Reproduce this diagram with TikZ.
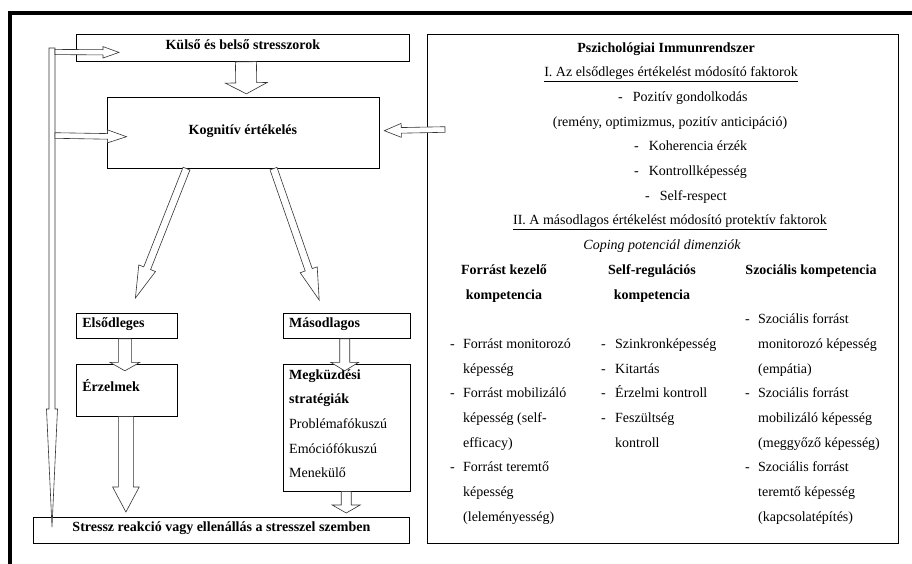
\documentclass[tikz,border=0pt]{standalone}
\usepackage{fontspec}
\setmainfont{Liberation Serif}
\usetikzlibrary{calc, positioning}

\newcommand{\diagfont}{\fontsize{14}{24.7}\selectfont}
% hollow block arrow: start, tip, shaft half width, head half width, head length
\newcommand{\hollowarrow}[5]{%
  \path (#2) coordinate (ha-tip) ($(#2)!#5!(#1)$) coordinate (ha-neck);
  \draw[harrow] ($(#1)!#3!90:(#2)$) -- ($(ha-neck)!#3!90:(ha-tip)$)
    -- ($(ha-neck)!#4!90:(ha-tip)$) -- (ha-tip)
    -- ($(ha-neck)!#4!-90:(ha-tip)$) -- ($(ha-neck)!#3!-90:(ha-tip)$)
    -- ($(#1)!#3!-90:(#2)$) -- cycle;}

\begin{document}
\begin{tikzpicture}[x=1pt, y=-1pt,
    every node/.style={font=\diagfont},
    plainbox/.style={draw, line width=.8pt, inner sep=0pt},
    box/.style={plainbox, font=\diagfont\bfseries, text height=10pt, text depth=7pt},
    lbox/.style={box, inner xsep=6pt, text width=#1, align=left},
    txt/.style={inner sep=0pt, anchor=base},
    listline/.style={inner sep=0pt, anchor=base west},
    harrow/.style={draw=black!80, line width=.6pt, fill=white, line join=miter}
  ]
    \useasboundingbox (0,0) rectangle (912,563);
    \draw[line width=4pt] (9.5,566) -- (9.5,12.5) -- (915,12.5);

    % Stress model
    \node[box, minimum width=333pt, minimum height=27pt, anchor=north west] (ext) at (76,34) {Külső és belső stresszorok};
    \node[box, minimum width=272pt, minimum height=71pt, below=35pt of ext] (kog) {Kognitív értékelés};
    \node[lbox=89pt, minimum height=25pt, anchor=north west] (els) at (76,313) {Elsődleges};
    \node[lbox=89pt, minimum height=52pt, below=25pt of els] (erz) {Érzelmek};
    \node[lbox=115pt, minimum height=25pt, right=105pt of els] (mas) {Másodlagos};
    \node[plainbox, minimum width=127pt, minimum height=127pt, text height=9pt, below=25pt of mas] (meg)
      {\begin{tabular}[t]{@{}p{115pt}@{}}\textbf{Megküzdési}\\\textbf{stratégiák}\\Problémafókuszú\\Emóciófókuszú\\Menekülő\end{tabular}};
    \node[box, minimum width=376pt, minimum height=26pt, anchor=north west] (resp) at (33,517) {Stressz reakció vagy ellenállás a stresszel szemben};

    % Psychological immune system
    \node[plainbox, minimum width=471pt, minimum height=509pt, anchor=north west] (immun) at (427,34) {};
    \node[txt, font=\diagfont\bfseries] (title) at (666,52) {Pszichológiai Immunrendszer};
    \node[txt] (prim) at (671,76.7) {\underline{I. Az elsődleges értékelést módosító faktorok}};
    \node[listline] (p1) at (618,101.4) {-\hspace{10pt}Pozitív gondolkodás};
    \node[txt] (p1b) at (670,126.1) {(remény, optimizmus, pozitív anticipáció)};
    \node[listline] (p2) at (634,150.8) {-\hspace{10pt}Koherencia érzék};
    \node[listline] (p3) at (634,175.5) {-\hspace{10pt}Kontrollképesség};
    \node[listline] (p4) at (645,200.2) {-\hspace{10pt}Self-respect};
    \node[txt] (sec) at (670,224.9) {\underline{II. A másodlagos értékelést módosító protektív faktorok}};
    \node[txt, font=\diagfont\itshape] (coping) at (662,249.6) {Coping potenciál dimenziók};

    % Coping columns
    \node[txt, font=\diagfont\bfseries] (h1) at (504,274.3) {\begin{tabular}[t]{@{}c@{}}Forrást kezelő\\kompetencia\end{tabular}};
    \node[txt, font=\diagfont\bfseries] (h2) at (652,274.3) {\begin{tabular}[t]{@{}c@{}}Self-regulációs\\kompetencia\end{tabular}};
    \node[txt, font=\diagfont\bfseries] (h3) at (811,274.3) {Szociális kompetencia};
    \node[listline] (c1) at (450,348.4) {\begin{tabular}[t]{@{}p{13pt}@{}l@{}}
      - & Forrást monitorozó\\ & képesség\\
      - & Forrást mobilizáló\\ & képesség (self-\\ & efficacy)\\
      - & Forrást teremtő\\ & képesség\\ & (leleményesség)\end{tabular}};
    \node[listline] (c2) at (601,348.4) {\begin{tabular}[t]{@{}p{14pt}@{}l@{}}
      - & Szinkronképesség\\ - & Kitartás\\ - & Érzelmi kontroll\\
      - & Feszültség\\ & kontroll\end{tabular}};
    \node[listline] (c3) at (745,323.7) {\begin{tabular}[t]{@{}p{13pt}@{}l@{}}
      - & Szociális forrást\\ & monitorozó képesség\\ & (empátia)\\
      - & Szociális forrást\\ & mobilizáló képesség\\ & (meggyőző képesség)\\
      - & Szociális forrást\\ & teremtő képesség\\ & (kapcsolatépítés)\end{tabular}};

    % Feedback bar
    \coordinate (bar-top) at (52,48);
    \coordinate (bar-end) at (52,527);
    \hollowarrow{bar-top}{bar-end}{3pt}{5.5pt}{118pt}
    \coordinate (fb1) at ($(bar-top)+(3,4)$);
    \coordinate (fb1-tip) at ($(ext.west)+(43,4.5)$);
    \hollowarrow{fb1}{fb1-tip}{2.6pt}{5.7pt}{16pt}
    \coordinate (fb2) at ($(bar-top)+(3,87.5)$);
    \coordinate (fb2-tip) at ($(kog.west)+(20,4)$);
    \hollowarrow{fb2}{fb2-tip}{2.8pt}{6.5pt}{19pt}

    % Arrows
    \coordinate (s1) at ($(ext.south)+(3,0)$);
    \coordinate (s1-tip) at ($(kog.north)+(3.5,-3)$);
    \hollowarrow{s1}{s1-tip}{10.5pt}{21pt}{11pt}
    \coordinate (imm-out) at ($(immun.north west)+(18,95.5)$);
    \coordinate (imm-tip) at ($(kog.east)+(5,-2)$);
    \hollowarrow{imm-out}{imm-tip}{2.8pt}{7pt}{17pt}
    \coordinate (d1) at ($(kog.south west)+(80,0)$);
    \coordinate (d1-tip) at ($(els.north)+(8.5,-15)$);
    \hollowarrow{d1}{d1-tip}{3.7pt}{9pt}{32pt}
    \coordinate (d2) at ($(kog.south west)+(167,0)$);
    \coordinate (d2-tip) at ($(mas.north)+(-27.5,-13)$);
    \hollowarrow{d2}{d2-tip}{3.7pt}{9pt}{32pt}
    \coordinate (e1) at ($(els.south)+(-2,0)$);
    \coordinate (e1-tip) at ($(erz.north)+(-2,7)$);
    \hollowarrow{e1}{e1-tip}{6.5pt}{15pt}{8.5pt}
    \coordinate (e2) at ($(erz.south)+(-1,0)$);
    \coordinate (e2-tip) at ($(erz.south |- resp.north)+(-1,-5)$);
    \hollowarrow{e2}{e2-tip}{7.5pt}{13.3pt}{25pt}
    \coordinate (m1) at ($(mas.south)+(-2,0)$);
    \coordinate (m1-tip) at ($(meg.north)+(-2,7)$);
    \hollowarrow{m1}{m1-tip}{5pt}{14pt}{8.5pt}
    \coordinate (m2) at ($(meg.south)+(-0.5,0)$);
    \coordinate (m2-tip) at ($(meg.south |- resp.north)+(-0.5,-4)$);
    \hollowarrow{m2}{m2-tip}{5pt}{14pt}{8pt}
  \end{tikzpicture}
\end{document}
